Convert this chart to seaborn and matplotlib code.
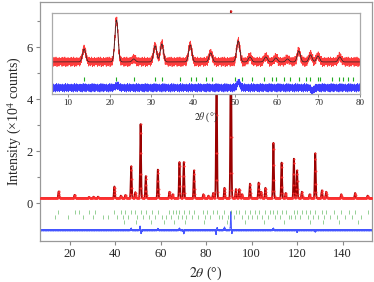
import numpy as np
import pandas as pd
import matplotlib
matplotlib.use("Agg")
import matplotlib.pyplot as plt
import seaborn as sns

# ---------------- data ----------------
# main pattern: peak positions (2theta, deg) and heights above background (x1e4 counts)
main_pos = [15.2, 22.2, 28.5, 30.5, 32.5, 39.7, 42.5, 44.5, 47.1, 48.9, 51.2, 53.5,
            58.8, 63.9, 65.3, 68.3, 70.2, 74.7, 78.8, 81.0, 83.1, 84.6, 88.1, 90.9,
            93.1, 94.6, 95.8, 99.3, 103.1, 104.2, 106.1, 109.6, 113.2, 115.0, 118.6,
            120.0, 122.1, 125.5, 128.0, 130.9, 132.8, 139.4, 145.5, 151.0]
main_amp = [0.26, 0.13, 0.05, 0.06, 0.06, 0.45, 0.10, 0.12, 1.23, 0.23, 2.85, 0.85,
            1.10, 0.25, 0.15, 1.39, 1.39, 1.07, 0.15, 0.10, 0.20, 5.30, 0.40, 7.20,
            0.35, 0.35, 0.15, 0.56, 0.60, 0.25, 0.40, 2.13, 1.37, 0.20, 1.52,
            1.07, 0.25, 0.15, 1.73, 0.30, 0.25, 0.15, 0.20, 0.10]
main_background = 0.2
# difference curve features (position, signed amplitude)
diff_pos = [47.1, 51.0, 51.5, 58.8, 68.3, 70.2, 84.4, 84.9, 88.1, 90.9, 91.3, 109.6, 120.0, 128.0]
diff_amp = [0.06, 0.14, -0.12, 0.05, 0.06, -0.12, -0.15, 0.08, 0.10, 0.70, -0.12, 0.06, -0.06, -0.05]
diff_offset = -1.03

# Bragg reflection tick rows (three rows)
ticks_row1 = [15.0, 22.2, 24.0, 28.6, 31.2, 39.7, 42.6, 44.3, 47.1, 48.9, 51.2, 53.5, 56.4, 58.8,
              63.9, 65.3, 66.8, 68.3, 70.2, 72.5, 74.7, 78.8, 80.3, 83.1, 84.6, 88.1, 90.9,
              93.1, 94.6, 97.0, 99.3, 101.5, 103.1, 106.1, 108.0, 109.6, 111.3, 113.2, 115.0,
              118.6, 120.0, 122.1, 123.9, 125.5, 128.0, 130.9, 132.8, 136.2, 139.4, 142.8,
              145.5, 151.0]
ticks_row2 = [13.6, 19.5, 25.8, 30.2, 34.9, 36.8, 40.8, 43.3, 45.6, 49.7, 52.4, 55.1, 57.6,
              60.6, 62.2, 64.6, 67.5, 69.3, 71.2, 73.6, 76.3, 79.5, 81.8, 85.7, 87.2, 89.6,
              92.2, 95.8, 98.3, 100.4, 102.3, 104.6, 107.2, 110.5, 112.4, 116.4, 117.3,
              119.3, 121.2, 124.6, 126.8, 129.4, 131.8, 134.5, 137.7, 141.1, 144.0, 148.3]
ticks_row3 = [43.8, 49.3, 55.6, 61.3, 66.0, 70.6, 79.0, 89.2, 96.9, 105.4, 114.1, 125.9,
              131.2, 138.3, 146.6]

# inset (low angle, magnified): peak positions and heights (arbitrary units)
inset_pos = [13.9, 21.65, 25.8, 30.9, 32.5, 39.3, 44.2, 50.8, 53.6, 57.4, 59.8, 62.6,
             65.3, 68.1, 69.9, 75.1]
inset_amp = [13, 42, 3, 16, 18, 17, 9, 21, 5, 5, 4, 3, 11, 7, 6, 5]
inset_background = 32
inset_ticks = [13.9, 21.6, 25.8, 30.9, 32.5, 36.8, 39.4, 40.6, 43.2, 44.4, 50.0, 51.6, 54.2,
               56.9, 58.9, 59.8, 61.7, 63.1, 65.3, 67.1, 68.1, 69.9, 70.5, 73.2, 74.9, 76.0,
               77.2, 78.4]
inset_diff_offset = 6
inset_diff_pos = [21.8, 50.9, 68.6]
inset_diff_amp = [2.5, 5.5, -3.0]
# counting noise (arbitrary units, repeated)
noise_vals = [0.4, -1.1, 0.9, -0.3, 1.6, -0.8, 0.2, -1.7, 1.1, 0.6, -0.5, -1.3, 1.8, -0.2,
              0.7, -0.9, 0.3, 1.4, -1.5, 0.1, -0.6, 1.0, -1.2, 0.5, 1.9, -0.4, -1.0, 0.8,
              -0.1, 1.3, -1.8, 0.6, -0.7, 1.5, -0.3, -1.4, 0.9, 0.2, -0.9, 1.2, -0.5, 0.4,
              -1.6, 1.7, -0.2, 0.0, 1.1, -1.1, 0.5, -0.8, 1.4, -0.6, 0.3]

# ---------------- build profiles ----------------
def profile(x, pos, amp, sig):
    y = np.zeros_like(x)
    for p, a in zip(pos, amp):
        y += a * np.exp(-0.5 * ((x - p) / sig) ** 2)
    return y

x_main = np.arange(7.0, 153.0, 0.02)
calc_main = main_background + profile(x_main, main_pos, main_amp, 0.2)
x_obs = x_main[::5]
obs_main = main_background + profile(x_obs, main_pos, main_amp, 0.2)
diff_main = diff_offset + profile(x_main, diff_pos, diff_amp, 0.15)
diff_main = diff_main + 0.015 * np.resize(np.array(noise_vals), x_main.size)

x_in = np.arange(6.2, 80.0, 0.04)
calc_in = inset_background + profile(x_in, inset_pos, inset_amp, 0.38)
nz = np.resize(np.array(noise_vals), x_in.size)
nz2 = np.resize(np.array(noise_vals[::-1]), x_in.size)
obs_in = calc_in + 2.6 * nz
diff_in = inset_diff_offset + profile(x_in, inset_diff_pos, inset_diff_amp, 0.35) + 2.3 * nz2

df_main = pd.DataFrame({"x": x_main, "calc": calc_main, "diff": diff_main})
df_obs = pd.DataFrame({"x": x_obs, "obs": obs_main})
df_in = pd.DataFrame({"x": x_in, "obs": obs_in, "calc": calc_in, "diff": diff_in})

# ---------------- plotting ----------------
sns.set_style("ticks")
plt.rcParams["font.family"] = ["Liberation Serif", "DejaVu Serif"]
plt.rcParams["mathtext.fontset"] = "stix"

fig = plt.figure(figsize=(3.74, 2.82), dpi=100)
ax = fig.add_axes([0.107, 0.145, 0.888, 0.848])

sns.lineplot(data=df_main, x="x", y="calc", ax=ax, color="#9a0000", lw=1.3, zorder=2)
sns.scatterplot(data=df_obs, x="x", y="obs", ax=ax, color="#ff3030", s=2.0,
                linewidth=0, alpha=0.8, zorder=3)
sns.lineplot(data=df_main, x="x", y="diff", ax=ax, color="#4455ff", lw=0.7, zorder=2)
ax.vlines(ticks_row1, -0.26, -0.42, color="#66bb66", lw=0.6, alpha=0.8)
ax.vlines(ticks_row2, -0.44, -0.60, color="#66bb66", lw=0.6, alpha=0.8)
ax.vlines(ticks_row3, -0.62, -0.78, color="#66bb66", lw=0.6, alpha=0.8)

ax.set_xlim(7, 153)
ax.set_ylim(-1.45, 7.75)
ax.set_xticks([20, 40, 60, 80, 100, 120, 140])
ax.set_yticks([0, 2, 4, 6])
ax.set_yticks([1, 3, 5, 7], minor=True)
ax.set_xlabel(r"$\mathit{2\theta}$ (°)", fontsize=10, labelpad=3)
ax.set_ylabel(r"Intensity (×10$^4$ counts)", fontsize=10, labelpad=2)
ax.tick_params(axis="both", labelsize=9, color="#888888", length=3, width=0.8, pad=2)
ax.tick_params(axis="y", which="minor", length=2, color="#888888", width=0.8)
for s in ax.spines.values():
    s.set_color("#999999")
    s.set_linewidth(0.9)

# inset
axi = fig.add_axes([0.139, 0.667, 0.824, 0.287])
axi.set_facecolor("white")
sns.lineplot(data=df_in, x="x", y="obs", ax=axi, color="#ff1a1a", lw=0.6, alpha=0.85)
sns.lineplot(data=df_in, x="x", y="calc", ax=axi, color="#222222", lw=0.5)
sns.lineplot(data=df_in, x="x", y="diff", ax=axi, color="#1a1aff", lw=0.6, alpha=0.85)
axi.vlines(inset_ticks, 13, 17, color="#22aa22", lw=0.8)
axi.set_xlim(6.2, 80)
axi.set_ylim(0, 81)
axi.set_yticks([])
axi.set_xticks([10, 20, 30, 40, 50, 60, 70, 80])
axi.set_ylabel("")
axi.set_xlabel(r"$\mathit{2\theta}$ (°)", fontsize=7, labelpad=2)
axi.tick_params(axis="x", labelsize=6.5, color="#888888", length=2.5, width=0.7, pad=1.5)
for s in axi.spines.values():
    s.set_color("#aaaaaa")
    s.set_linewidth(0.9)

fig.savefig("out.png", dpi=100)
